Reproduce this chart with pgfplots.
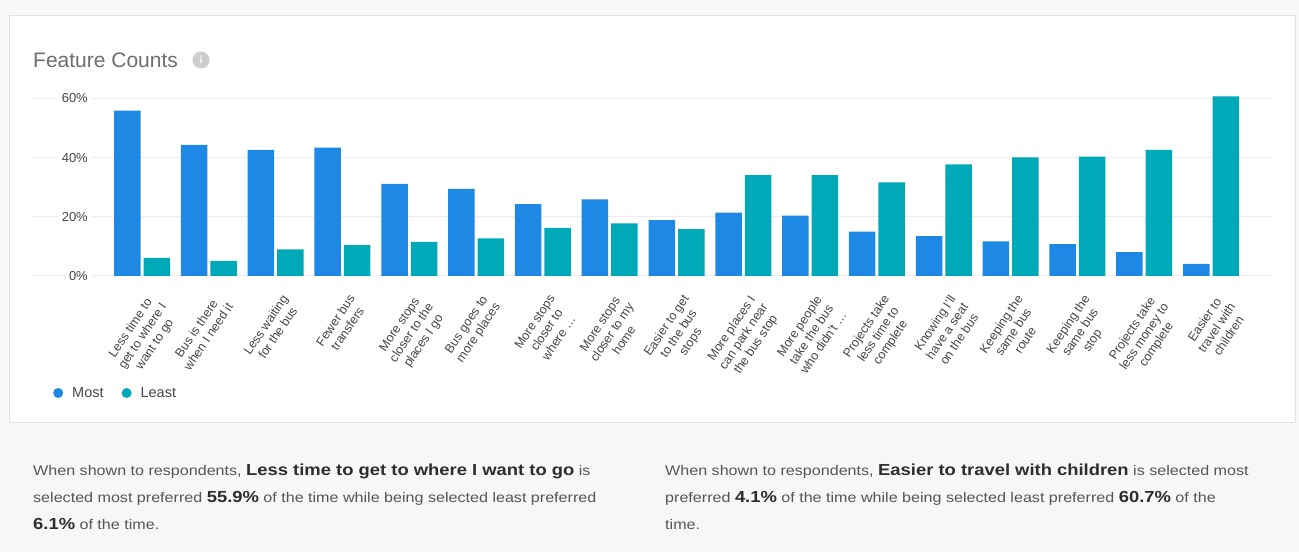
\documentclass[border=0pt]{standalone}
\usepackage{fontspec}
\setmainfont{Liberation Sans}
\newfontfamily\bodyfont[FakeStretch=1.15]{Liberation Sans}
\usepackage{pgfplots}
\usepackage{pgfplotstable}
\pgfplotsset{compat=1.18}
\definecolor{mostc}{RGB}{30,136,229}
\definecolor{leastc}{RGB}{0,169,183}
\definecolor{bgc}{RGB}{247,247,247}
\definecolor{cardb}{RGB}{226,226,226}
\definecolor{gridc}{RGB}{236,236,236}
\definecolor{titlec}{RGB}{110,110,110}
\definecolor{labc}{RGB}{70,70,70}
\definecolor{txtc}{RGB}{85,85,85}
\definecolor{boldc}{RGB}{45,45,45}
\definecolor{iconc}{RGB}{205,205,205}

\pgfplotstableread{
x most least
0 55.9 6.1
1 44.3 5.1
2 42.6 9.0
3 43.4 10.4
4 31.1 11.5
5 29.4 12.7
6 24.3 16.3
7 25.9 17.8
8 18.9 15.8
9 21.4 34.1
10 20.4 34.1
11 15.0 31.6
12 13.5 37.7
13 11.7 40.1
14 10.8 40.3
15 8.1 42.6
16 4.1 60.7
}\datatable

\newcommand{\reg}{\bodyfont\fontsize{14}{16}\selectfont\color{txtc}}
\newcommand{\bld}{\fontsize{16}{18}\selectfont\bfseries\color{boldc}}

\begin{document}
\begin{tikzpicture}[x=1pt,y=1pt]
\path[use as bounding box] (0,0) rectangle (1299,552);
\fill[bgc] (0,0) rectangle (1299,552);
\filldraw[fill=white, draw=cardb, line width=1pt] (9,129) rectangle (1295,536);
\node[anchor=west, text=titlec, font=\fontsize{21}{24}\selectfont, inner sep=0] at (33,492) {Feature Counts};
\fill[iconc] (201,492) circle (8.5);
\node[text=white, font=\fontsize{10}{10}\selectfont\bfseries, inner sep=0] at (201,492) {i};

\begin{axis}[
  at={(33pt,276pt)}, anchor=south west,
  scale only axis, width=1240pt, height=183.5pt,
  xmin=-1.632, xmax=16.928, ymin=0, ymax=62,
  axis line style={draw=none},
  major tick length=0pt,
  ymajorgrids, grid style={gridc, line width=1pt},
  ytick={0,20,40,60},
  yticklabels={0\%,20\%,40\%,60\%},
  yticklabel style={font=\fontsize{13}{13}\selectfont, text=labc, fill=white, inner xsep=4pt, xshift=59pt},
  xtick={0,...,16},
  xticklabels={
    {Less time to\\get to where I\\want to go},
    {Bus is there\\when I need it},
    {Less waiting\\for the bus},
    {Fewer bus\\transfers},
    {More stops\\closer to the\\places I go},
    {Bus goes to\\more places},
    {More stops\\closer to\\where \dots},
    {More stops\\closer to my\\home},
    {Easier to get\\to the bus\\stops},
    {More places I\\can park near\\the bus stop},
    {More people\\take the bus\\who didn't \dots},
    {Projects take\\less time to\\complete},
    {Knowing I'll\\have a seat\\on the bus},
    {Keeping the\\same bus\\route},
    {Keeping the\\same bus\\stop},
    {Projects take\\less money to\\complete},
    {Easier to\\travel with\\children}},
  xticklabel style={xshift=5pt, yshift=-16pt, rotate=56, anchor=north east, align=center, font=\fontsize{12.5}{14.5}\selectfont, text=labc, inner sep=1pt},
  ybar=3pt, bar width=26.5pt,
  legend style={at={(axis description cs:0.0137,-0.6376)}, anchor=west, draw=none, fill=none,
    legend columns=2, font=\fontsize{14.5}{14.5}\selectfont, text=labc,
    /tikz/every even column/.append style={column sep=16pt}},
]
\addplot[ybar, fill=mostc, draw=none, legend image code/.code={\fill[mostc] (0.0cm,0cm) circle (5pt); \path (12pt,0);}] table[x=x, y=most] {\datatable};
\addplot[ybar, fill=leastc, draw=none, legend image code/.code={\fill[leastc] (0.0cm,0cm) circle (5pt); \path (12pt,0);}] table[x=x, y=least] {\datatable};
\legend{Most, Least}
\end{axis}

\node[anchor=base west, inner sep=0] at (33,77) {\reg When shown to respondents, {\bld Less time to get to where I want to go} is};
\node[anchor=base west, inner sep=0] at (33,50) {\reg selected most preferred {\bld 55.9\%} of the time while being selected least preferred};
\node[anchor=base west, inner sep=0] at (33,23) {\reg {\bld 6.1\%} of the time.};

\node[anchor=base west, inner sep=0] at (665,77) {\reg When shown to respondents, {\bld Easier to travel with children} is selected most};
\node[anchor=base west, inner sep=0] at (665,50) {\reg preferred {\bld 4.1\%} of the time while being selected least preferred {\bld 60.7\%} of the};
\node[anchor=base west, inner sep=0] at (665,23) {\reg time.};
\end{tikzpicture}
\end{document}
